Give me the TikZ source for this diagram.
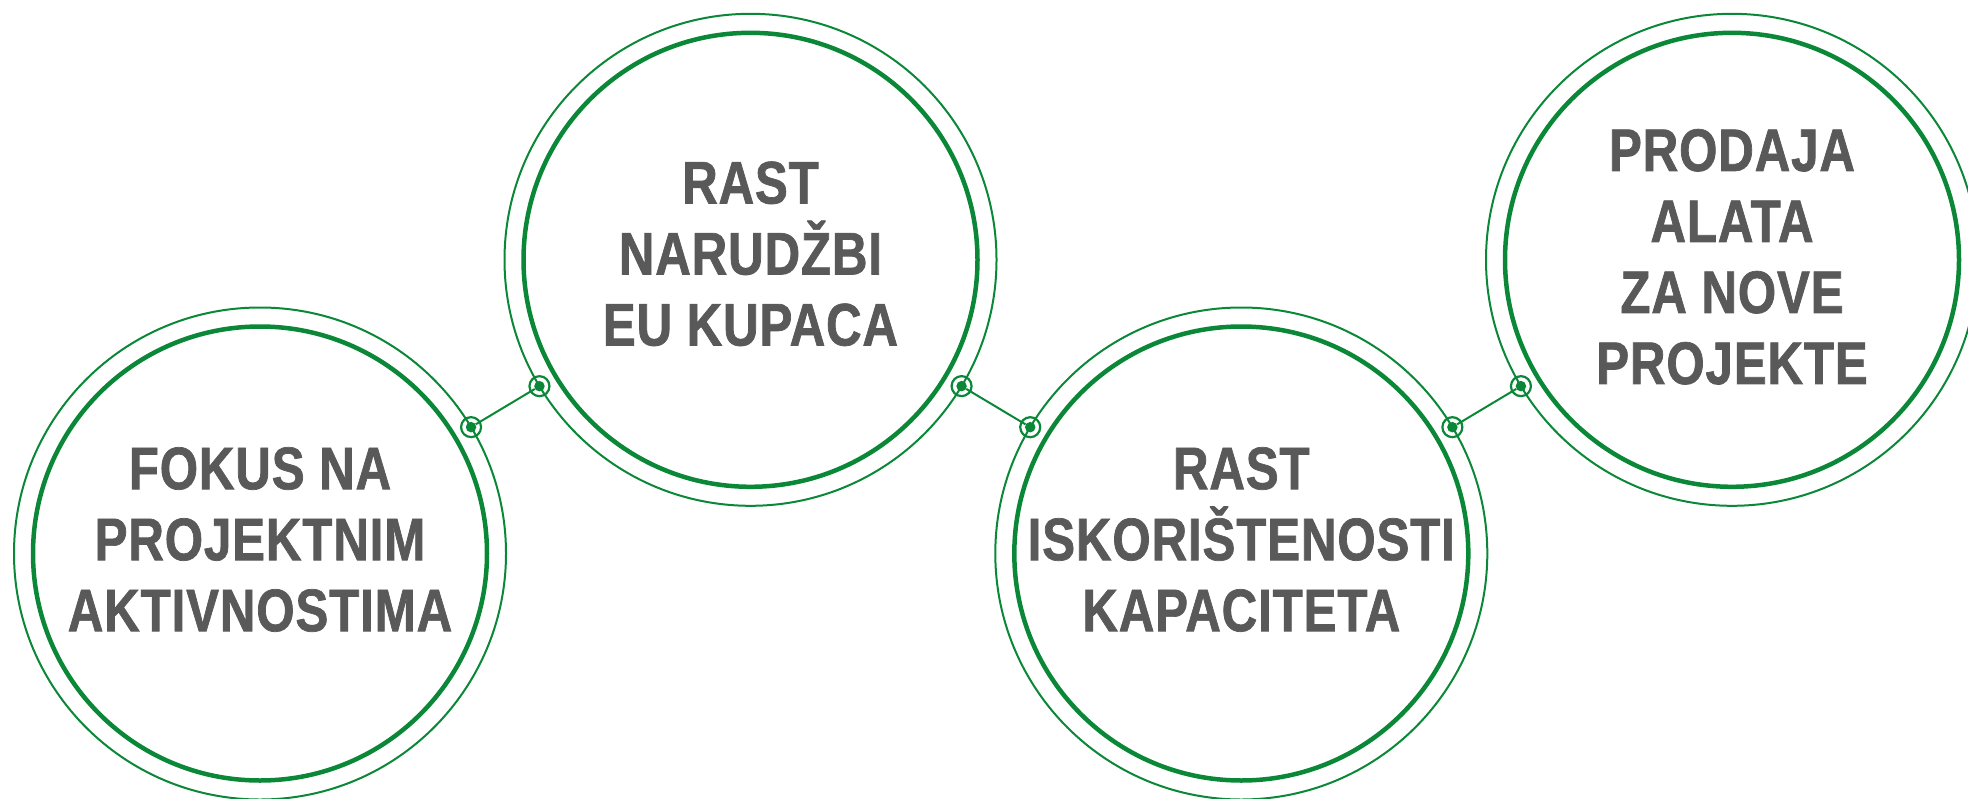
\documentclass[tikz,border=0pt]{standalone}
\usepackage{fontspec}
\setmainfont{Liberation Sans}[FakeStretch=0.82, LetterSpace=1.5, FakeBold=1.2]
\usepackage{xcolor}
\definecolor{ringgreen}{RGB}{10,135,55}
\definecolor{labelgray}{RGB}{89,89,89}

\begin{document}
\begin{tikzpicture}[x=1pt, y=-1pt,
    outerring/.style={circle, draw=ringgreen, line width=2pt, minimum size=492pt, inner sep=0pt, outer sep=0pt},
    innerring/.style={circle, draw=ringgreen, line width=4.5pt, minimum size=454pt, inner sep=0pt, outer sep=0pt},
    goal/.style={align=center, text=labelgray, font=\bfseries\fontsize{60}{71}\selectfont},
    joint/.style={circle, draw=ringgreen, line width=2.2pt, minimum size=20pt, inner sep=0pt},
    dot/.style={circle, fill=ringgreen, minimum size=10.5pt, inner sep=0pt},
    link/.style={draw=ringgreen, line width=2pt}]
  \useasboundingbox (0,0) rectangle (1968,798);

  \node [outerring] (o1) at (260,553.5) {};
  \node [innerring] (i1) at (o1) {};
  \node [outerring] (o2) at (750.5,259.8) {};
  \node [innerring] (i2) at (o2) {};
  \node [outerring] (o3) at (1241.3,553.5) {};
  \node [innerring] (i3) at (o3) {};
  \node [outerring] (o4) at (1732,259.8) {};
  \node [innerring] (i4) at (o4) {};

  \node [goal, yshift=14pt] (fokus) at (i1) {FOKUS NA\\PROJEKTNIM\\AKTIVNOSTIMA};
  \node [goal, yshift=6pt] (narudzbe) at (i2) {RAST\\NARUDŽBI\\EU KUPACA};
  \node [goal, yshift=14pt] (kapacitet) at (i3) {RAST\\ISKORIŠTENOSTI\\KAPACITETA};
  \node [goal, yshift=3pt] (prodaja) at (i4) {PRODAJA\\ALATA\\ZA NOVE\\PROJEKTE};

  \path (o1) -- (o2) coordinate [pos=0] (p12) coordinate [pos=1] (p21);
  \path (o2) -- (o3) coordinate [pos=0] (p23) coordinate [pos=1] (p32);
  \path (o3) -- (o4) coordinate [pos=0] (p34) coordinate [pos=1] (p43);

  \foreach \p in {p12,p21,p23,p32,p34,p43}
    \node [dot] (d\p) at (\p) {};
  \draw [link] (dp12) -- (dp21);
  \draw [link] (dp23) -- (dp32);
  \draw [link] (dp34) -- (dp43);
  \foreach \p in {p12,p21,p23,p32,p34,p43}
    \node [joint] (j\p) at (\p) {};
\end{tikzpicture}
\end{document}
